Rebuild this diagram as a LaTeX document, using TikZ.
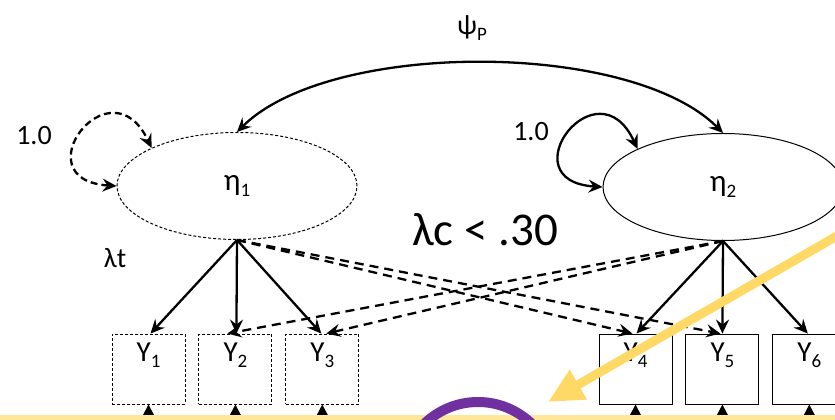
\documentclass[tikz,border=0pt]{standalone}
\usepackage{fontspec}
\setmainfont{Carlito}
\usetikzlibrary{arrows.meta, positioning, shapes.geometric}
\definecolor{banda}{HTML}{FFE699}
\definecolor{anillo}{HTML}{7030A0}
\definecolor{resalte}{HTML}{FFD966}
\newcommand{\indice}[1]{\raisebox{-6pt}{\fontsize{19}{19}\selectfont #1}}
\tikzset{
    latente/.style={
        ellipse, draw=black, line width=1pt,
        minimum width=240pt, minimum height=107pt,
        inner sep=0pt,
        font=\fontsize{31}{34}\selectfont
    },
    indicador/.style={
        rectangle, draw=black, line width=0.9pt,
        minimum width=73pt, minimum height=70pt,
        inner sep=7.5pt, text height=20pt, text depth=35pt,
        font=\fontsize{29}{32}\selectfont
    },
    punteado/.style={dash pattern=on 3pt off 2pt},
    flecha/.style={-{Stealth[length=14pt,width=13pt,inset=5pt]}, line width=2.3pt},
    cruzada/.style={flecha, dash pattern=on 9pt off 6pt},
    lazo/.style={{Stealth[length=14pt,width=13pt,inset=5pt]}-{Stealth[length=14pt,width=13pt,inset=5pt]}, line width=2.3pt},
    subida/.style={-{Triangle[length=13pt,width=13pt]}, line width=2pt},
    etiqueta/.style={font=\fontsize{28}{32}\selectfont}
}

\begin{document}
\begin{tikzpicture}[x=1pt, y=1pt, node distance=13pt]
    \useasboundingbox (0,0) rectangle (835,420);
    \clip (0,0) rectangle (835,420);

    % factores
    \node[latente, punteado] (eta1) at (237,234) {η\indice{1}};
    \node[latente] (eta2) at (723,233) {η\indice{2}};

    % indicadores
    \node[indicador, punteado] (y1) at (148.5,51) {Y\indice{1}};
    \node[indicador, punteado, right=of y1] (y2) {Y\indice{2}};
    \node[indicador, punteado, right=of y2] (y3) {Y\indice{3}};
    \node[indicador] (y4) at (635.5,51) {Y\indice{4}};
    \node[indicador, right=of y4] (y5) {Y\indice{5}};
    \node[indicador, right=of y5] (y6) {Y\indice{6}};

    % cargas
    \draw[flecha]  (eta1.south) -- ([xshift=2pt]y1.north);
    \draw[flecha]  (eta1.south) -- ([xshift=1pt]y2.north);
    \draw[flecha]  (eta1.south) -- ([xshift=-1pt]y3.north);
    \draw[cruzada] (eta1.south) -- ([xshift=-3pt]y4.north);
    \draw[cruzada] (eta1.south) -- ([xshift=-2pt]y5.north);
    \draw[cruzada] (eta2.south) -- ([xshift=-8pt]y2.north);
    \draw[cruzada] (eta2.south) -- ([xshift=4pt]y3.north);
    \draw[flecha]  (eta2.south) -- ([xshift=1pt]y4.north);
    \draw[flecha]  (eta2.south) -- (y5.north);
    \draw[flecha]  (eta2.south) -- ([xshift=-1.5pt]y6.north);

    % varianzas y covarianza
    \draw[lazo, dash pattern=on 7pt off 4pt]
        (eta1.west) .. controls (20,240) and (110,360) .. (eta1.156);
    \draw[lazo]
        (eta2.west) .. controls (507,239) and (597,359) .. (eta2.156);
    \draw[lazo]
        (eta1.north) .. controls (330,380) and (630,380) .. (eta2.north);

    \node[etiqueta] (psi)  at (472,392) {ψ\indice{P}};
    \node[etiqueta] (var1) at (34,284)  {1.0};
    \node[etiqueta] (var2) at (531,288) {1.0};
    \node[etiqueta] (lt)   at (115,162) {λt};
    \node[font=\fontsize{47}{52}\selectfont] (lc) at (485,190) {λc < .30};

    % errores (desde abajo)
    \coordinate (e1) at ([yshift=-40pt]y1.south);
    \coordinate (e2) at ([yshift=-40pt]y2.south);
    \coordinate (e3) at ([yshift=-40pt]y3.south);
    \coordinate (e4) at ([yshift=-40pt]y4.south);
    \coordinate (e5) at ([yshift=-40pt]y5.south);
    \coordinate (e6) at ([yshift=-40pt]y6.south);
    \draw[subida] (e1) -- (y1.south);
    \draw[subida] (e2) -- (y2.south);
    \draw[subida] (e3) -- (y3.south);
    \draw[subida] (e4) -- (y4.south);
    \draw[subida] (e5) -- (y5.south);
    \draw[subida] (e6) -- (y6.south);

    % resaltado
    \fill[banda] (0,0) rectangle (835,4.5);
    \draw[anillo, line width=10pt] (478,-59) circle (77);
    \coordinate (desde) at (870,203);
    \coordinate (hasta) at (548,18);
    \draw[resalte, line width=9pt, -{Triangle[length=35pt,width=32pt]}] (desde) -- (hasta);

\end{tikzpicture}
\end{document}
